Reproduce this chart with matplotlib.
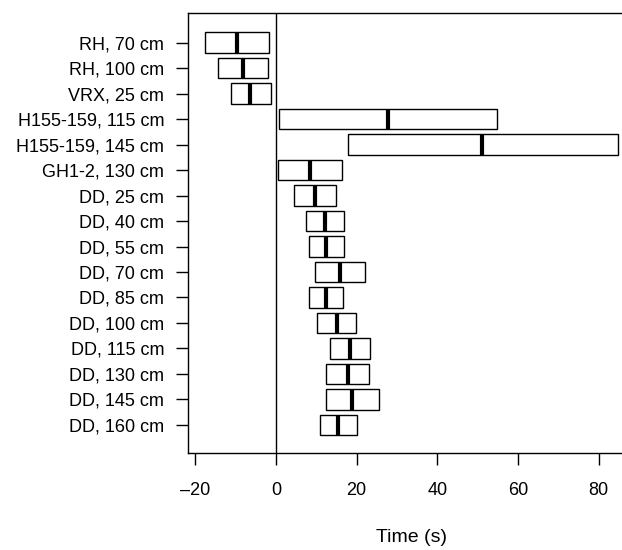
import numpy as np
import matplotlib
matplotlib.use("Agg")
import matplotlib.pyplot as plt
from matplotlib.patches import Rectangle

labels = ["RH, 70 cm", "RH, 100 cm", "VRX, 25 cm", "H155-159, 115 cm",
          "H155-159, 145 cm", "GH1-2, 130 cm", "DD, 25 cm", "DD, 40 cm",
          "DD, 55 cm", "DD, 70 cm", "DD, 85 cm", "DD, 100 cm",
          "DD, 115 cm", "DD, 130 cm", "DD, 145 cm", "DD, 160 cm"]
lower = [-17.6, -14.4, -11.2, 0.75, 17.8, 0.5, 4.5, 7.5,
         8.1, 9.6, 8.3, 10.2, 13.5, 12.5, 12.5, 11.0]
upper = [-1.8, -2.0, -1.2, 54.8, 84.8, 16.3, 14.9, 17.0,
         16.8, 22.0, 16.7, 19.9, 23.4, 23.2, 25.5, 20.1]
median = [-9.7, -8.2, -6.3, 27.7, 51.2, 8.4, 9.6, 12.1,
          12.4, 15.8, 12.4, 15.1, 18.5, 17.8, 19.0, 15.5]

plt.rcParams['font.family'] = ['Liberation Sans', 'DejaVu Sans']

fig = plt.figure(figsize=(6.22, 5.5), dpi=100)
ax = fig.add_axes([0.3027, 0.1769, 0.7174, 0.7989])

pos = np.arange(1, len(labels) + 1)
h = 0.8
for y, lo, hi, md in zip(pos, lower, upper, median):
    ax.add_patch(Rectangle((lo, y - h / 2), hi - lo, h, facecolor='white',
                           edgecolor='black', linewidth=1.0, zorder=2))
    ax.plot([md, md], [y - h / 2, y + h / 2], color='black', linewidth=3,
            solid_capstyle='butt', zorder=3)

ax.axvline(0, color='black', linewidth=1.0, zorder=1)

ax.set_xlim(-21.7, 88.9)
ax.set_ylim(17.09, -0.15)
ax.set_yticks(pos)
ax.set_yticklabels(labels)
ax.set_xticks([-20, 0, 20, 40, 60, 80])
ax.set_xticklabels(['\u201320', '0', '20', '40', '60', '80'])
ax.tick_params(axis='y', length=8.4, width=1, pad=9, labelsize=13)
ax.tick_params(axis='x', length=8.4, width=1, pad=13, labelsize=13)
for s in ax.spines.values():
    s.set_linewidth(1.0)
ax.set_xlabel('Time (s)', fontsize=14, labelpad=21)

fig.savefig('out.png', dpi=100)
